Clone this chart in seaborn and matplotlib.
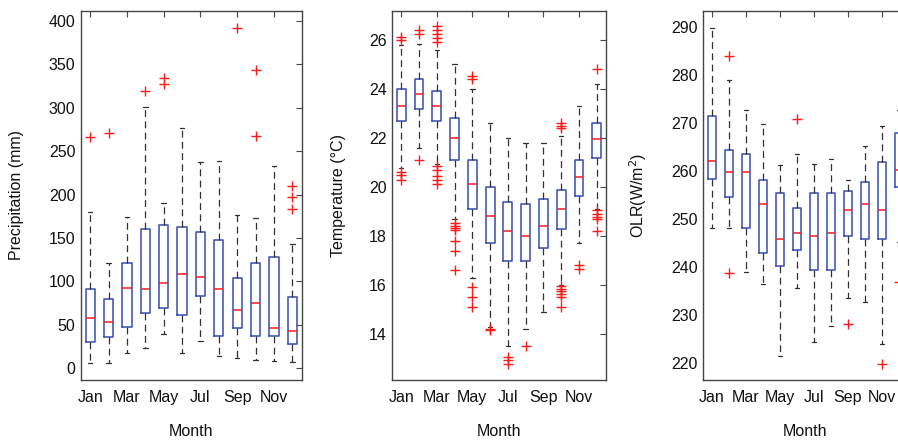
import matplotlib
matplotlib.use("Agg")
import matplotlib.pyplot as plt
import seaborn as sns
import numpy as np

# ---------------- data ----------------
months = ["Jan", "Feb", "Mar", "Apr", "May", "Jun", "Jul", "Aug", "Sep", "Oct", "Nov", "Dec"]
tick_months = ["Jan", "Mar", "May", "Jul", "Sep", "Nov"]

# Precipitation (mm)
pr_lo  = [5.7, 5.7, 17.6, 23.7, 39.3, 17.6, 31.7, 14.2, 11.5, 9.6, 8.7, 6.9]
pr_q1  = [30.2, 36.3, 47.3, 63.4, 69.1, 61.8, 83.6, 37.5, 46.7, 37.2, 37.2, 27.6]
pr_med = [58.0, 53.4, 92.0, 91.2, 98.5, 108.4, 105.0, 91.2, 67.1, 74.8, 46.7, 42.9]
pr_q3  = [91.2, 79.8, 121.4, 160.0, 165.3, 163.0, 157.3, 147.6, 103.6, 120.8, 127.7, 82.4]
pr_hi  = [179.4, 121.4, 173.7, 300.3, 190.6, 276.2, 237.4, 238.5, 176.4, 172.6, 232.8, 142.7]
pr_out_month = [1, 2, 4, 5, 5, 9, 10, 10, 12, 12, 12]
pr_out_value = [266.5, 270.8, 318.7, 326.8, 333.7, 392.0, 343.6, 267.0, 209.8, 196.8, 183.3]

# Temperature (degC)
tm_lo  = [20.8, 21.6, 20.94, 18.7, 16.3, 14.3, 13.51, 14.2, 14.9, 15.99, 17.71, 19.1]
tm_q1  = [22.7, 23.2, 22.71, 21.1, 19.11, 17.71, 17.0, 17.0, 17.5, 18.31, 19.62, 21.21]
tm_med = [23.3, 23.81, 23.32, 22.02, 20.12, 18.83, 18.2, 18.0, 18.41, 19.1, 20.41, 21.97]
tm_q3  = [24.0, 24.42, 23.93, 22.82, 21.12, 20.01, 19.4, 19.3, 19.51, 19.9, 21.12, 22.62]
tm_hi  = [25.82, 25.85, 25.62, 25.02, 24.01, 22.62, 22.0, 21.8, 21.8, 22.1, 23.3, 24.22]
tm_out_month = [1, 1, 1, 1, 1,
                2, 2, 2,
                3, 3, 3, 3, 3, 3, 3, 3, 3, 3,
                4, 4, 4, 4, 4, 4, 4,
                5, 5, 5, 5, 5,
                6, 6,
                7, 7, 7,
                8,
                10, 10, 10, 10, 10, 10, 10, 10, 10,
                11, 11,
                12, 12, 12, 12, 12, 12]
tm_out_value = [26.12, 26.03, 20.6, 20.5, 20.3,
                26.44, 26.26, 21.12,
                26.57, 26.41, 26.25, 26.08, 25.95, 20.85, 20.71, 20.44, 20.3, 20.14,
                18.53, 18.43, 18.32, 18.23, 17.8, 17.4, 16.62,
                24.53, 24.42, 15.91, 15.51, 15.1,
                14.22, 14.15,
                13.07, 12.94, 12.77,
                13.51,
                22.62, 22.52, 22.42, 15.95, 15.85, 15.75, 15.65, 15.5, 15.1,
                16.81, 16.67,
                24.83, 19.05, 18.9, 18.8, 18.72, 18.2]

# OLR (W/m2)
olr_lo  = [248.1, 248.1, 239.0, 236.5, 221.3, 235.6, 224.3, 227.6, 233.5, 232.6, 223.8, 245.2]
olr_q1  = [258.2, 254.6, 248.1, 242.9, 240.2, 243.5, 239.3, 239.4, 246.5, 245.8, 245.8, 256.6]
olr_med = [262.0, 259.8, 259.7, 253.1, 245.8, 247.0, 246.5, 247.1, 251.9, 253.1, 251.8, 260.1]
olr_q3  = [271.4, 264.3, 263.6, 258.1, 255.3, 252.2, 255.3, 255.4, 255.8, 257.6, 261.9, 267.8]
olr_hi  = [289.7, 278.9, 272.6, 269.7, 261.3, 263.6, 261.5, 262.4, 258.1, 265.1, 269.3, 272.7]
olr_out_month = [2, 2, 6, 9, 11, 12]
olr_out_value = [283.9, 238.7, 270.7, 228.0, 219.7, 236.8]

# ---------------- style ----------------
sns.set_theme(style="white")
plt.rcParams["font.family"] = ["Liberation Sans", "DejaVu Sans"]

BOX_C = "#3d52b5"
MED_C = "#ff1a1a"
WHISK_C = "#303030"
SPINE_C = "#454545"
TXT_C = "#111111"

fig = plt.figure(figsize=(8.98, 4.40), dpi=100)
W, H = 898.0, 440.0
bottom_px, top_px = 380.0, 11.0


def make_ax(left_px, width_px):
    return fig.add_axes([left_px / W, (H - bottom_px) / H, width_px / W, (bottom_px - top_px) / H])


ax1 = make_ax(81.0, 220.5)
ax2 = make_ax(392.3, 213.4)
ax3 = make_ax(703.3, 204.0)

panels = [
    (ax1, pr_lo, pr_q1, pr_med, pr_q3, pr_hi, pr_out_month, pr_out_value,
     "Precipitation (mm)", (-13.5, 411.2), np.arange(0, 401, 50), 17.0),
    (ax2, tm_lo, tm_q1, tm_med, tm_q3, tm_hi, tm_out_month, tm_out_value,
     "Temperature (\u00b0C)", (12.12, 27.2), np.arange(14, 27, 2), 338.0),
    (ax3, olr_lo, olr_q1, olr_med, olr_q3, olr_hi, olr_out_month, olr_out_value,
     "OLR(W/m$^2$)", (216.4, 293.3), np.arange(220, 291, 10), 638.0),
]

positions = np.arange(1, len(months) + 1)

for (ax, lo, q1, med, q3, hi, om, ov, ylab, ylim, yticks, ylab_x) in panels:
    stats = []
    for i, m in enumerate(months):
        stats.append(dict(label=m, whislo=lo[i], q1=q1[i], med=med[i], q3=q3[i],
                          whishi=hi[i], fliers=[]))
    ax.bxp(stats, positions=positions, widths=0.5, capwidths=0.25,
           showfliers=False, manage_ticks=False,
           boxprops=dict(color=BOX_C, linewidth=1.15),
           medianprops=dict(color=MED_C, linewidth=1.1),
           whiskerprops=dict(color=WHISK_C, linewidth=0.9, linestyle=(0, (5.5, 3.5))),
           capprops=dict(color=WHISK_C, linewidth=0.9))
    sns.scatterplot(x=om, y=ov, marker="+", color="#ff1a1a", s=60, linewidth=1.0,
                    ax=ax, legend=False, zorder=3)
    ax.set_xlim(0.5, 12.5)
    ax.set_ylim(*ylim)
    ax.set_yticks(yticks)
    ax.set_yticklabels([str(int(v)) for v in yticks])
    ax.set_xticks([1, 3, 5, 7, 9, 11])
    ax.set_xticklabels(tick_months)
    ax.tick_params(direction="in", top=True, right=True, length=4, width=0.8,
                   color=SPINE_C, labelsize=11.5, labelcolor=TXT_C)
    ax.tick_params(axis="x", pad=7)
    ax.tick_params(axis="y", pad=4)
    for sp in ax.spines.values():
        sp.set_color(SPINE_C)
        sp.set_linewidth(1.0)
        sp.set_visible(True)
    ax.set_xlabel("Month", fontsize=11.5, color=TXT_C)
    ax.set_ylabel(ylab, fontsize=11.5, color=TXT_C)
    ax.xaxis.label.set_va("center")
    ax.yaxis.label.set_va("center")
    ax.xaxis.set_label_coords(0.5, (bottom_px - 431.0) / (bottom_px - top_px))
    pos = ax.get_position()
    ax.yaxis.set_label_coords((ylab_x / W - pos.x0) / pos.width, 0.5)
    ax.grid(False)
    ax.set_facecolor("white")

fig.savefig("out.png", dpi=100, facecolor="white")
